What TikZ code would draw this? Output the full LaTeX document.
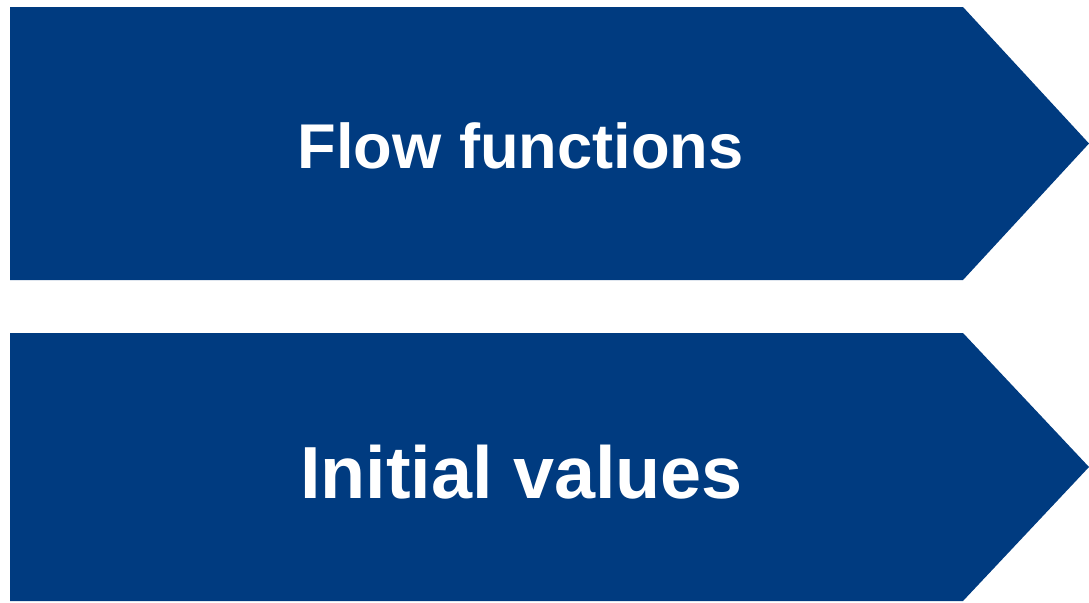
\documentclass[tikz,border=0pt]{standalone}
\usepackage{fontspec}
\setmainfont{Liberation Sans}
\definecolor{stepblue}{RGB}{0,59,128}
\begin{document}
\begin{tikzpicture}[x=0.02cm,y=-0.02cm,
  arrowbox/.style={fill=stepblue,draw=none},
  arrowlabel/.style={text=white,font=\bfseries,inner sep=0pt,anchor=base}]
\useasboundingbox (0,0) rectangle (1089,602);

\fill[arrowbox] (10,7) -- (963,7) -- (1089,143.5) -- (963,280) -- (10,280) -- cycle;
\node[arrowlabel,font=\fontsize{36}{40}\selectfont\bfseries] (flow) at (520.5,168) {Flow functions};

\fill[arrowbox] (10,333) -- (963,333) -- (1089,467) -- (963,601) -- (10,601) -- cycle;
\node[arrowlabel,font=\fontsize{42}{46}\selectfont\bfseries] (init) at (521.5,498) {Initial values};
\end{tikzpicture}
\end{document}
